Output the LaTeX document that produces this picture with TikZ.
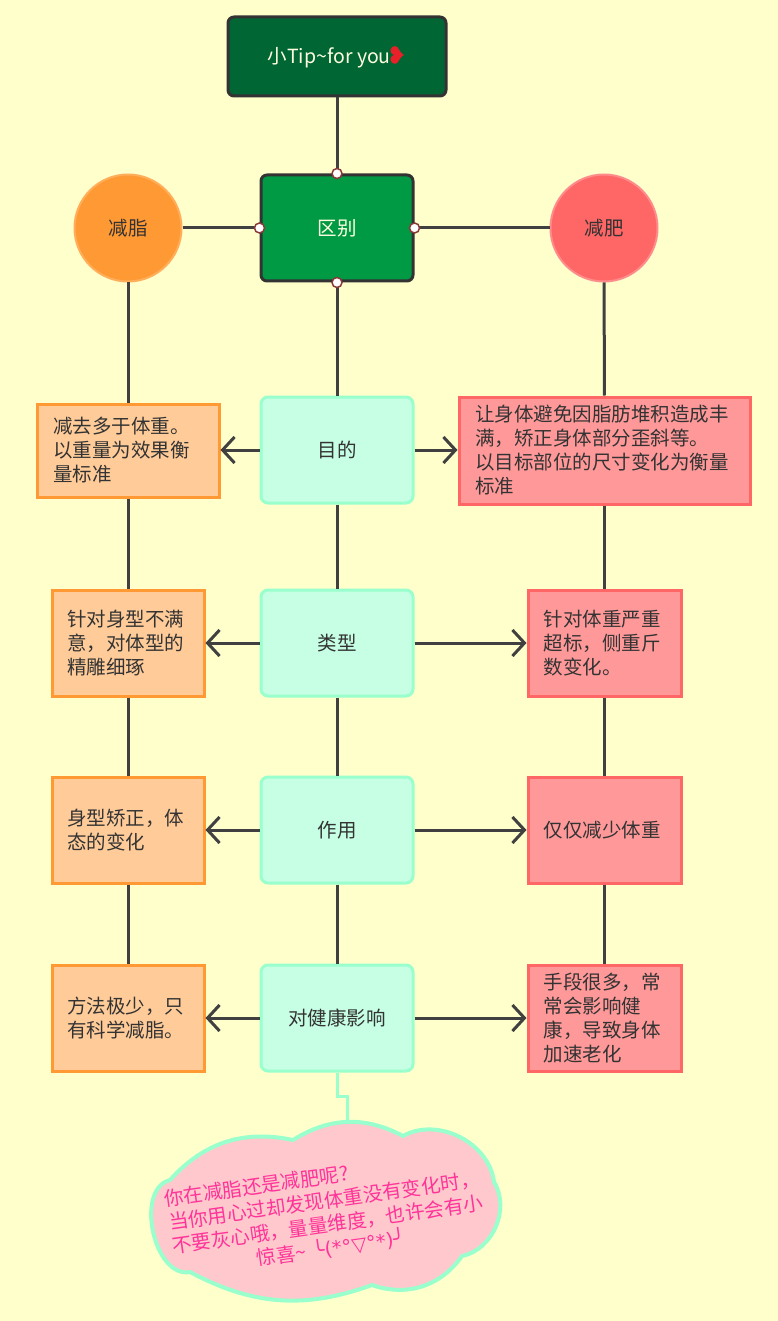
\documentclass[tikz,border=0pt]{standalone}
\usepackage{fontspec}
\setmainfont{Noto Sans CJK SC}
\newfontfamily\symfont{DejaVu Sans}
\usetikzlibrary{arrows.meta}

\definecolor{bgyellow}{HTML}{FFFFCC}
\definecolor{tipgreen}{HTML}{006633}
\definecolor{diffgreen}{HTML}{009944}
\definecolor{linegray}{HTML}{404040}
\definecolor{textgray}{HTML}{333333}
\definecolor{zhiorange}{HTML}{FF9933}
\definecolor{zhiborder}{HTML}{FFAE5C}
\definecolor{feired}{HTML}{FF6666}
\definecolor{feiborder}{HTML}{FF8C8C}
\definecolor{mintfill}{HTML}{C6FFE4}
\definecolor{mintline}{HTML}{99FFCC}
\definecolor{peach}{HTML}{FFCC99}
\definecolor{rose}{HTML}{FF9999}
\definecolor{cloudpink}{HTML}{FFC8CC}
\definecolor{notepink}{HTML}{FF3399}
\definecolor{dotred}{HTML}{8B3A3A}
\definecolor{cream}{HTML}{FFFFE0}
\definecolor{heartred}{HTML}{E8202A}

\begin{document}
\begin{tikzpicture}[x=1pt, y=-1pt,
	font=\fontsize{19.5}{24}\selectfont, text=textgray,
	>={Straight Barb[length=12pt,width=26pt]},
	line/.style={line width=3pt, draw=linegray},
	headbox/.style={draw=textgray, line width=3pt, rounded corners=6pt, text=cream},
	ball/.style={circle, line width=2pt, minimum size=107pt, inner sep=0pt},
	midbox/.style={draw=mintline, fill=mintfill, line width=3pt, rounded corners=7pt,
		minimum width=152pt, minimum height=106pt},
	zhibox/.style={draw=zhiorange, fill=peach, line width=3pt, align=left,
		minimum width=152pt, minimum height=106pt, text width=122pt, inner xsep=15pt},
	feibox/.style={draw=feired, fill=rose, line width=3pt, align=left,
		minimum width=153pt, minimum height=106pt, text width=122pt, inner xsep=15.5pt},
	dot/.style={fill=white, draw=dotred, line width=1.5pt}]

	\fill [bgyellow] (0,0) rectangle (778,1321);
	\useasboundingbox (0,0) rectangle (778,1321);

	% title and the two topics
	\node [headbox, fill=tipgreen, minimum width=218pt, minimum height=79pt] (tip) at (337,56.5)
		{小Tip\textasciitilde for you{\symfont\fontsize{24}{24}\selectfont\color{heartred}\rotatebox[origin=c]{90}{❤}}};
	\node [headbox, fill=diffgreen, minimum width=152pt, minimum height=106pt] (diff) at (337,228) {区别};
	\node [ball, fill=zhiorange, draw=zhiborder] (zhi) at (128,228) {减脂};
	\node [ball, fill=feired, draw=feiborder] (fei) at (604,228) {减肥};

	% middle column
	\node [midbox] (aim) at (337,450) {目的};
	\node [midbox] (kind) at (337,643) {类型};
	\node [midbox] (use) at (337,830) {作用};
	\node [midbox] (health) at (337,1018) {对健康影响};

	% left column
	\node [zhibox, minimum width=182pt, minimum height=93pt, text width=150pt, inner xsep=16pt] (zhiaim) at (128,450.5)
		{减去多于体重。\\以重量为效果衡\\量标准};
	\node [zhibox] (zhikind) at (128,643) {针对身型不满\\意，对体型的\\精雕细琢};
	\node [zhibox] (zhiuse) at (128,830) {身型矫正，体\\态的变化};
	\node [zhibox] (zhihealth) at (128,1018) {方法极少，只\\有科学减脂。};

	% right column
	\node [feibox, minimum width=291pt, minimum height=107pt, text width=259pt, inner xsep=16pt] (feiaim) at (604.5,450.5)
		{让身体避免因脂肪堆积造成丰\\满，矫正身体部分歪斜等。\\以目标部位的尺寸变化为衡量\\标准};
	\node [feibox] (feikind) at (604.5,643) {针对体重严重\\超标，侧重斤\\数变化。};
	\node [feibox] (feiuse) at (604.5,830) {仅仅减少体重};
	\node [feibox] (feihealth) at (604.5,1018) {手段很多，常\\常会影响健\\康，导致身体\\加速老化};

	% connectors
	\draw [line] (tip) -- (diff);
	\draw [line] (zhi) -- (diff);
	\draw [line] (diff) -- (fei);
	\draw [line] (diff) -- (aim);
	\draw [line] (aim) -- (kind);
	\draw [line] (kind) -- (use);
	\draw [line] (use) -- (health);
	\draw [line] (zhi) -- (zhiaim);
	\draw [line] (zhiaim) -- (zhikind);
	\draw [line] (zhikind) -- (zhiuse);
	\draw [line] (zhiuse) -- (zhihealth);
	\draw [line] (fei) -- (feiaim);
	\draw [line] (feiaim) -- (feikind);
	\draw [line] (feikind) -- (feiuse);
	\draw [line] (feiuse) -- (feihealth);

	\draw [line, ->] (aim.west) -- (zhiaim.east |- aim.west);
	\draw [line, ->] (aim.east) -- (feiaim.west |- aim.east);
	\draw [line, ->] (kind) -- (zhikind);
	\draw [line, ->] (kind) -- (feikind);
	\draw [line, ->] (use) -- (zhiuse);
	\draw [line, ->] (use) -- (feiuse);
	\draw [line, ->] (health) -- (zhihealth);
	\draw [line, ->] (health) -- (feihealth);

	\draw [dot] (diff.north) circle (5pt);
	\draw [dot] (diff.south) circle (5pt);
	\draw [dot] (diff.west) circle (5pt);
	\draw [dot] (diff.east) circle (5pt);

	% the note cloud
	\coordinate (cloudtop) at (347,1126);
	\draw [mintline, line width=3pt] (health.south) -- ++(0,24) -| (cloudtop);
	\draw [draw=mintline, fill=cloudpink, line width=4pt, line join=round]
		(293,1140) to [bend left=30] (403,1136) to [bend left=56] (494,1182)
		to [bend left=55] (462,1256) to [bend left=37] (372,1285)
		to [bend left=24] (190,1272) to [bend left=88] (170,1180)
		to [bend left=30] (293,1140) -- cycle;
	\node [rotate=8, text=notepink, font=\fontsize{19.6}{24}\selectfont, text width=316pt, align=center, inner sep=0pt] (note) at (326,1213)
		{\makebox[316pt][l]{你在减脂还是减肥呢?}\\当你用心过却发现体重没有变化时，\\不要灰心哦，量量维度，也许会有小\\惊喜\textasciitilde{} {\symfont ╰(*°▽°*)╯}};
\end{tikzpicture}
\end{document}
